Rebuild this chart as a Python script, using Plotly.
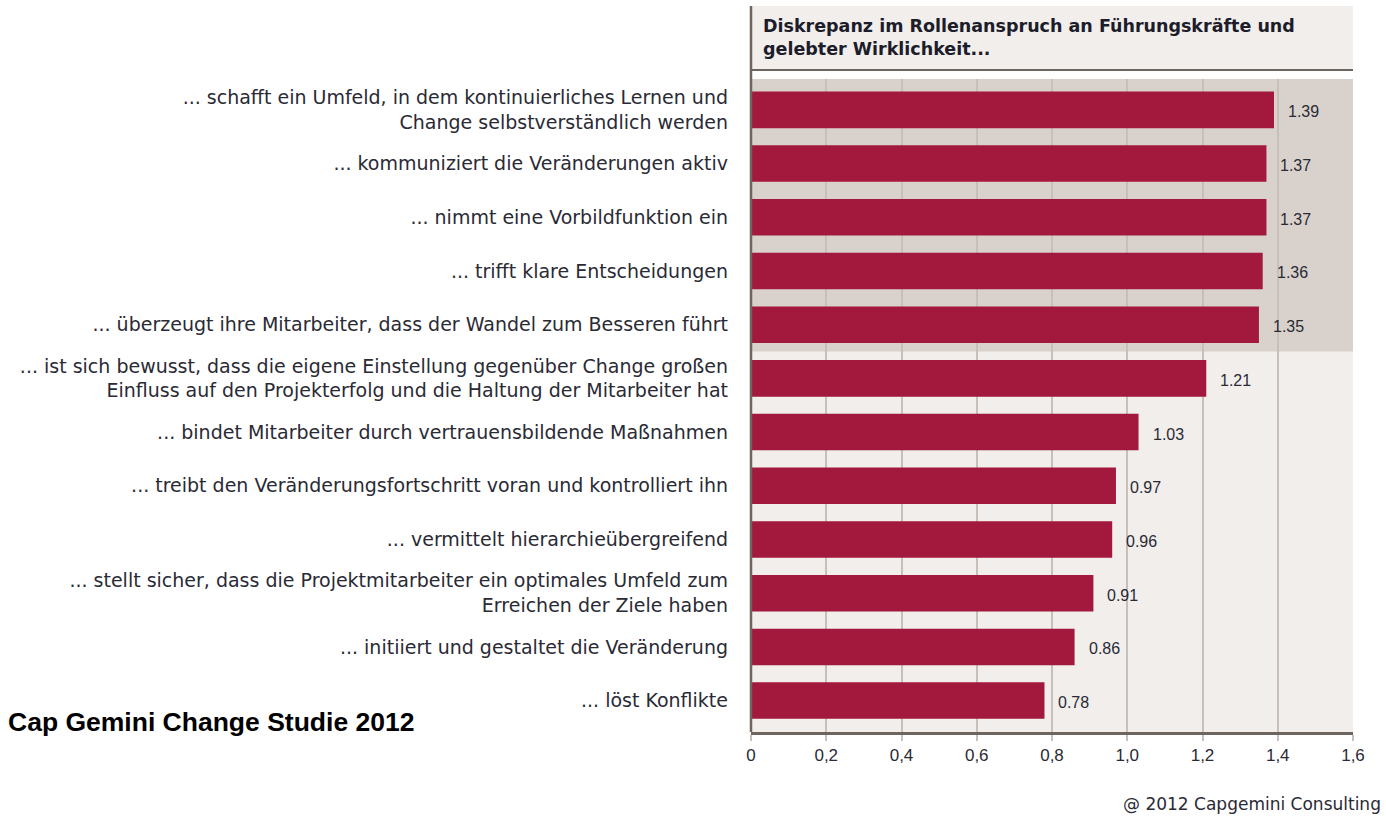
import plotly.graph_objects as go

categories = [
    "... schafft ein Umfeld, in dem kontinuierliches Lernen und<br>Change selbstverständlich werden",
    "... kommuniziert die Veränderungen aktiv",
    "... nimmt eine Vorbildfunktion ein",
    "... trifft klare Entscheidungen",
    "... überzeugt ihre Mitarbeiter, dass der Wandel zum Besseren führt",
    "... ist sich bewusst, dass die eigene Einstellung gegenüber Change großen<br>Einfluss auf den Projekterfolg und die Haltung der Mitarbeiter hat",
    "... bindet Mitarbeiter durch vertrauensbildende Maßnahmen",
    "... treibt den Veränderungsfortschritt voran und kontrolliert ihn",
    "... vermittelt hierarchieübergreifend",
    "... stellt sicher, dass die Projektmitarbeiter ein optimales Umfeld zum<br>Erreichen der Ziele haben",
    "... initiiert und gestaltet die Veränderung",
    "... löst Konflikte",
]
values = [1.39, 1.37, 1.37, 1.36, 1.35, 1.21, 1.03, 0.97, 0.96, 0.91, 0.86, 0.78]
value_labels = ["1.39", "1.37", "1.37", "1.36", "1.35", "1.21", "1.03", "0.97", "0.96", "0.91", "0.86", "0.78"]
x_ticks = [0, 0.2, 0.4, 0.6, 0.8, 1.0, 1.2, 1.4, 1.6]
x_ticktext = ["0", "0,2", "0,4", "0,6", "0,8", "1,0", "1,2", "1,4", "1,6"]
title_text = "Diskrepanz im Rollenanspruch an Führungskräfte und<br>gelebter Wirklichkeit..."
highlight_count = 5

BAR = "#a3193d"
LIGHT = "#f1eeeb"
DARK = "#d9d2cc"
AXIS = "#6e655e"
GRID = "#c8bfb8"
TXT = "#2a2a35"
FONT = "Liberation Sans, Arial, sans-serif"
WIDE = "DejaVu Sans, Verdana, sans-serif"

pos = list(range(len(categories)))

fig = go.Figure()
fig.add_trace(go.Bar(
    x=values, y=pos, orientation="h",
    marker=dict(color=BAR, line=dict(width=0)),
    width=0.68, hoverinfo="skip",
))

# value labels
for v, p, t in zip(values, pos, value_labels):
    fig.add_annotation(x=v, y=p, text=t, xref="x", yref="y", xanchor="left",
                       yanchor="middle", xshift=12, yshift=-2, showarrow=False,
                       font=dict(size=16, color=TXT, family=FONT))

# background bands
fig.add_shape(type="rect", xref="paper", yref="paper", x0=0, x1=1, y0=0, y1=1,
              fillcolor=LIGHT, line=dict(width=0), layer="below")
fig.add_shape(type="rect", xref="paper", yref="y", x0=0, x1=1,
              y0=-0.575, y1=highlight_count - 0.5,
              fillcolor=DARK, line=dict(width=0), layer="below")
# header box
fig.add_shape(type="rect", xref="paper", yref="paper", x0=0, x1=1,
              y0=1.0138, y1=1.1118, fillcolor=LIGHT, line=dict(width=0), layer="below")
fig.add_shape(type="line", xref="paper", yref="paper", x0=0, x1=1,
              y0=1.0138, y1=1.0138, line=dict(color=AXIS, width=2))
fig.add_shape(type="line", xref="paper", yref="paper", x0=0, x1=0,
              y0=0, y1=1.1118, line=dict(color=AXIS, width=2.5))

fig.add_annotation(xref="paper", yref="paper", x=0.016, y=1.099, xanchor="left",
                   yanchor="top", align="left", showarrow=False, text="<b>" + title_text + "</b>",
                   font=dict(size=17.5, color="#1c1c2a", family=WIDE))

fig.add_annotation(xref="paper", yref="paper", x=-1.238, y=0.0153, xanchor="left",
                   yanchor="middle", showarrow=False,
                   text="<b>Cap Gemini Change Studie 2012</b>",
                   font=dict(size=26.5, color="#000000", family=FONT))

fig.add_annotation(xref="paper", yref="paper", x=1.05, y=-0.11, xanchor="right",
                   yanchor="middle", showarrow=False,
                   text="@ 2012 Capgemini Consulting",
                   font=dict(size=17, color=TXT, family=WIDE))

fig.update_layout(
    width=1386, height=817,
    margin=dict(l=751, r=33, t=79, b=85),
    paper_bgcolor="white", plot_bgcolor="rgba(0,0,0,0)",
    showlegend=False, bargap=0.3,
    font=dict(family=FONT, color=TXT),
    xaxis=dict(range=[0, 1.6], tickvals=x_ticks, ticktext=x_ticktext,
               showgrid=True, gridcolor=GRID, gridwidth=1.5,
               showline=True, linecolor=AXIS, linewidth=2.5,
               ticks="outside", ticklen=6, tickcolor=GRID, tickwidth=1.5,
               tickfont=dict(size=17, color=TXT), zeroline=False, fixedrange=True),
    yaxis=dict(range=[11.585, -0.575], tickvals=pos, ticktext=categories,
               showgrid=False, zeroline=False, showline=False, ticks="",
               ticklabelstandoff=22,
               tickfont=dict(size=19, color=TXT, family=WIDE), fixedrange=True),
)

fig.write_html("out.html")
